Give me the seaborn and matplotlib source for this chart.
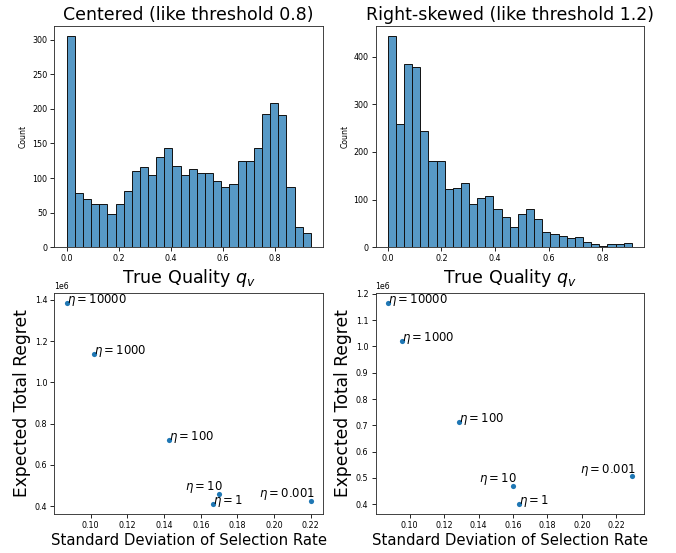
import numpy as np
import pandas as pd
import matplotlib
matplotlib.use("Agg")
import matplotlib.pyplot as plt
import seaborn as sns

# Histogram counts of true quality q_v (30 equal-width bins each)
centered_max = 0.938
centered_counts = [305, 79, 69, 62, 62, 48, 62, 81, 110, 116,
                   105, 131, 143, 118, 105, 113, 107, 107, 96, 87,
                   92, 125, 124, 144, 193, 209, 191, 87, 29, 20]

skewed_max = 0.91
skewed_counts = [443, 258, 384, 378, 244, 182, 182, 123, 125, 134,
                 90, 104, 108, 80, 64, 43, 69, 80, 60, 31,
                 27, 23, 19, 22, 10, 7, 3, 6, 7, 8]

# Regret vs. selection-rate spread for each learning rate eta
eta_labels = ["10000", "1000", "100", "10", "1", "0.001"]

centered_std = [0.0869, 0.1016, 0.1427, 0.1698, 0.1665, 0.2200]
centered_regret = [1.3855e6, 1.1355e6, 0.7226e6, 0.4597e6, 0.4097e6, 0.4258e6]

skewed_std = [0.0872, 0.0957, 0.1286, 0.1600, 0.1636, 0.2290]
skewed_regret = [1.1658e6, 1.0215e6, 0.7139e6, 0.4696e6, 0.4000e6, 0.5063e6]

# labels drawn up-left of their point instead of to the right
left_labels = {"10", "0.001"}

plt.rcParams["axes.linewidth"] = 0.65
plt.rcParams["axes.edgecolor"] = "#333333"
plt.rcParams["xtick.major.width"] = 0.6
plt.rcParams["ytick.major.width"] = 0.6
plt.rcParams["xtick.major.size"] = 2.6
plt.rcParams["ytick.major.size"] = 2.6
plt.rcParams["xtick.major.pad"] = 2.5
plt.rcParams["ytick.major.pad"] = 2.5
plt.rcParams["xtick.labelsize"] = 5.8
plt.rcParams["ytick.labelsize"] = 5.8

fig, axes = plt.subplots(2, 2, figsize=(6.76, 5.53), dpi=100)
fig.subplots_adjust(left=0.0806, right=0.9527, top=0.9535, bottom=0.070,
                    wspace=0.1955, hspace=0.206)


def draw_hist(ax, counts, upper, title):
    n = len(counts)
    edges = np.linspace(0, upper, n + 1)
    centers = (edges[:-1] + edges[1:]) / 2
    df = pd.DataFrame({"q": centers, "w": counts})
    sns.histplot(data=df, x="q", weights="w", bins=n, binrange=(0, upper),
                 ax=ax, color="#1f77b4", alpha=0.75, edgecolor="#111111",
                 linewidth=0.7)
    ax.set_title(title, fontsize=12.5, pad=4)
    ax.set_xlabel("True Quality $q_v$", fontsize=12.6, labelpad=3)
    ax.set_ylabel("Count", fontsize=5.6, labelpad=3)
    ax.set_xticks([0.0, 0.2, 0.4, 0.6, 0.8])


def draw_tradeoff(ax, std, regret):
    df = pd.DataFrame({"std": std, "regret": regret, "eta": eta_labels})
    sns.scatterplot(data=df, x="std", y="regret", ax=ax, s=14,
                    color="#1f77b4", linewidth=0)
    for x, y, lab in zip(std, regret, eta_labels):
        text = rf"$\eta={lab}$"
        if lab in left_labels:
            ax.annotate(text, (x, y), xytext=(2.7, 2.7),
                        textcoords="offset points", ha="right",
                        va="baseline", fontsize=8.4)
        else:
            ax.annotate(text, (x, y), ha="left", va="baseline", fontsize=8.4)
    ax.set_xlabel("Standard Deviation of Selection Rate", fontsize=10.7, labelpad=2)
    ax.set_ylabel("Expected Total Regret", fontsize=12.3, labelpad=3)
    ax.yaxis.get_offset_text().set_fontsize(5.6)


draw_hist(axes[0, 0], centered_counts, centered_max, "Centered (like threshold 0.8)")
draw_hist(axes[0, 1], skewed_counts, skewed_max, "Right-skewed (like threshold 1.2)")
draw_tradeoff(axes[1, 0], centered_std, centered_regret)
draw_tradeoff(axes[1, 1], skewed_std, skewed_regret)

fig.savefig("out.png", dpi=100)
